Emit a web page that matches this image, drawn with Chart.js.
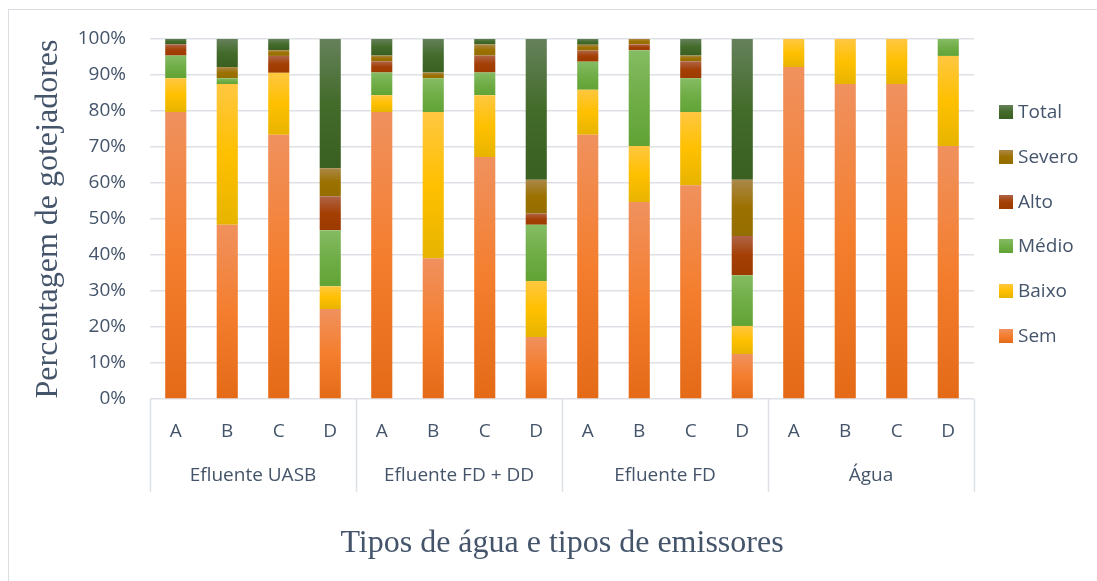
<!DOCTYPE html>
<html>
<head>
<meta charset="utf-8">
<script src="https://cdn.jsdelivr.net/npm/chart.js@4/dist/chart.umd.min.js"></script>
<style>
  body { margin: 0; background: #fff; }
  #wrap { position: relative; width: 1097px; height: 581px; overflow: hidden; }
  #frame { position: absolute; left: 8px; top: 9px; width: 1200px; height: 700px;
           border-top: 1.5px solid #DADDE2; border-left: 1.5px solid #DADDE2; }
  #myChart { position: absolute; left: 0; top: 0; }
  #legend { position: absolute; left: 999px; top: 100px; font-family: 'Open Sans', sans-serif;
            font-size: 19px; color: #44546A; }
  #legend div { height: 44.8px; line-height: 22px; white-space: nowrap; }
  #legend span.box { display: inline-block; width: 14px; height: 14px; margin-right: 5px;
                     vertical-align: -1px; }
</style>
</head>
<body>
<div id="wrap">
  <div id="frame"></div>
  <canvas id="myChart" width="1097" height="581"></canvas>
  <div id="legend"></div>
</div>
<script>
var categories = ['A', 'B', 'C', 'D', 'A', 'B', 'C', 'D', 'A', 'B', 'C', 'D', 'A', 'B', 'C', 'D'];
var groups = ['Efluente UASB', 'Efluente FD + DD', 'Efluente FD', 'Água'];
var yTicks = ['0%', '10%', '20%', '30%', '40%', '50%', '60%', '70%', '80%', '90%', '100%'];

var sem    = [79.7, 48.4, 73.4, 25.0,  79.7, 39.1, 67.2, 17.2,  73.4, 54.7, 59.4, 12.5,  92.2, 87.5, 87.5, 70.3];
var baixo  = [ 9.4, 39.1, 17.2,  6.3,   4.7, 40.6, 17.2, 15.6,  12.5, 15.6, 20.3,  7.8,   7.8, 12.5, 12.5, 25.0];
var medio  = [ 6.3,  1.6,  0,   15.6,   6.3,  9.4,  6.3, 15.6,   7.8, 26.6,  9.4, 14.1,   0,    0,    0,    4.7];
var alto   = [ 3.1,  0,    4.7,  9.4,   3.1,  0,    4.7,  3.1,   3.1,  1.6,  4.7, 10.9,   0,    0,    0,    0];
var severo = [ 0,    3.1,  1.6,  7.8,   1.6,  1.6,  3.1,  9.4,   1.6,  1.6,  1.6, 15.6,   0,    0,    0,    0];
var total  = [ 1.6,  7.8,  3.1, 35.9,   4.7,  9.4,  1.6, 39.1,   1.6,  0,    4.7, 39.1,   0,    0,    0,    0];

var seriesNames = ['Sem', 'Baixo', 'Médio', 'Alto', 'Severo', 'Total'];
var series = [sem, baixo, medio, alto, severo, total];
// top / middle / bottom of the gradient in each bar segment
var shades = [
  ['#F0915E', '#F47E2E', '#E46A17'],
  ['#FFC741', '#FFC000', '#E7B400'],
  ['#85BC63', '#70AD47', '#61A335'],
  ['#AF6446', '#A43F04', '#9C3A00'],
  ['#AA8848', '#9C7100', '#946E00'],
  ['#65815B', '#436B2A', '#395F21']
];

var textColor = '#44546A';
var gridColor = '#DDE1E6';
var tickFont = 'Open Sans';

function segmentFill(ctx) {
  var stops = shades[ctx.datasetIndex];
  var chart = ctx.chart;
  if (ctx.type !== 'data' || !chart.chartArea || !chart.scales.y) return stops[1];
  var base = 0;
  for (var k = 0; k < ctx.datasetIndex; k++) base += series[k][ctx.dataIndex];
  var v = series[ctx.datasetIndex][ctx.dataIndex];
  var top = chart.scales.y.getPixelForValue(base + v);
  var bot = chart.scales.y.getPixelForValue(base);
  if (!(bot - top > 0.5)) return stops[1];
  var g = chart.ctx.createLinearGradient(0, top, 0, bot);
  g.addColorStop(0, stops[0]);
  g.addColorStop(0.5, stops[1]);
  g.addColorStop(1, stops[2]);
  return g;
}

// second row of the category axis: group names and dividers
var groupAxis = {
  id: 'groupAxis',
  afterDraw: function (chart) {
    var xs = chart.scales.x, c = chart.ctx, area = chart.chartArea;
    var step = xs.getPixelForValue(1) - xs.getPixelForValue(0);
    var per = categories.length / groups.length;
    c.save();
    c.strokeStyle = gridColor;
    c.lineWidth = 1.5;
    c.fillStyle = textColor;
    c.font = '19px "' + tickFont + '", sans-serif';
    c.textAlign = 'center';
    c.textBaseline = 'middle';
    for (var g = 0; g <= groups.length; g++) {
      var x = g < groups.length ? xs.getPixelForValue(g * per) - step / 2
                                : xs.getPixelForValue(categories.length - 1) + step / 2;
      c.beginPath();
      c.moveTo(Math.round(x) + 0.5, area.bottom);
      c.lineTo(Math.round(x) + 0.5, area.bottom + 93);
      c.stroke();
      if (g < groups.length) {
        var mid = (xs.getPixelForValue(g * per) + xs.getPixelForValue(g * per + per - 1)) / 2;
        c.fillText(groups[g], mid, area.bottom + 77);
      }
    }
    c.restore();
  }
};

function drawChart() {
  var datasets = seriesNames.map(function (name, i) {
    return {
      label: name,
      data: series[i],
      backgroundColor: segmentFill,
      borderWidth: 0,
      categoryPercentage: 1.0,
      barPercentage: 0.41
    };
  });

  var ctx = document.getElementById('myChart').getContext('2d');
  new Chart(ctx, {
    type: 'bar',
    data: { labels: categories, datasets: datasets },
    plugins: [groupAxis],
    options: {
      responsive: false,
      animation: false,
      layout: { padding: { top: 39, right: 123, bottom: 0, left: 0 } },
      plugins: { legend: { display: false }, tooltip: { enabled: false } },
      scales: {
        x: {
          stacked: true,
          grid: { display: false, drawTicks: false },
          border: { display: false },
          ticks: { color: textColor, font: { family: tickFont, size: 19 }, padding: 21 },
          title: {
            display: true,
            text: 'Tipos de água e tipos de emissores',
            color: textColor,
            font: { family: 'Liberation Serif', size: 32 },
            padding: { top: 0, bottom: 18 }
          },
          afterFit: function (s) { s.height = 182; }
        },
        y: {
          stacked: true,
          min: 0,
          max: 100,
          grid: { color: gridColor, lineWidth: 1.5, drawTicks: false },
          border: { display: false },
          ticks: {
            stepSize: 10,
            padding: 24,
            color: textColor,
            font: { family: tickFont, size: 19 },
            callback: function (v) { return yTicks[Math.round(v / 10)]; }
          },
          title: {
            display: true,
            text: 'Percentagem de gotejadores',
            color: textColor,
            font: { family: 'Liberation Serif', size: 32 },
            padding: { top: 29, bottom: 0 }
          },
          afterFit: function (s) { s.width = 150; }
        }
      }
    }
  });

  var legend = document.getElementById('legend');
  for (var i = seriesNames.length - 1; i >= 0; i--) {
    var row = document.createElement('div');
    var box = document.createElement('span');
    box.className = 'box';
    box.style.background = 'linear-gradient(' + shades[i][0] + ',' + shades[i][1] + ' 50%,' + shades[i][2] + ')';
    row.appendChild(box);
    row.appendChild(document.createTextNode(seriesNames[i]));
    legend.appendChild(row);
  }
}

drawChart();
</script>
</body>
</html>
